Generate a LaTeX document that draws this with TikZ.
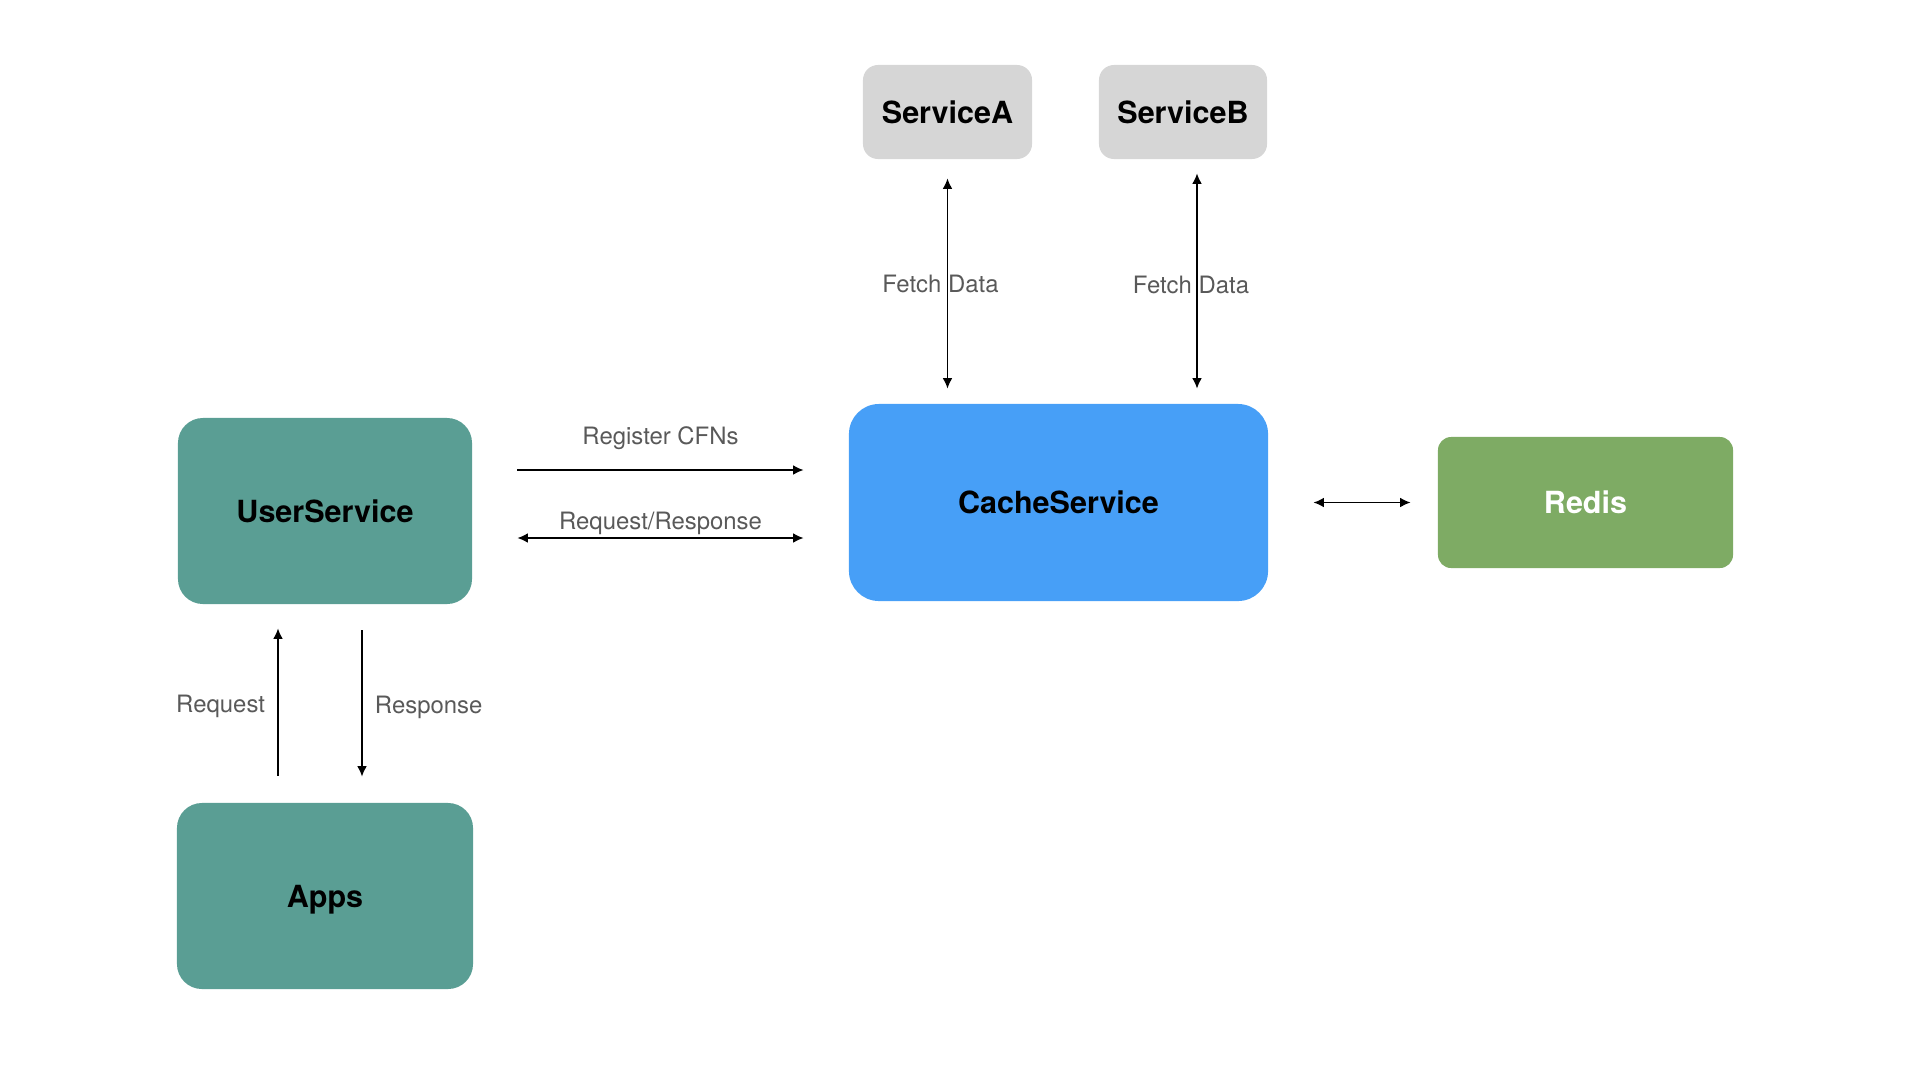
\documentclass[tikz,border=0pt]{standalone}
\usepackage{fontspec}
\setmainfont{TeX Gyre Heros}
\usetikzlibrary{arrows.meta,calc}
\definecolor{tealbox}{HTML}{5A9E94}
\definecolor{cacheblue}{HTML}{479FF7}
\definecolor{redisgreen}{HTML}{7EAB64}
\definecolor{svcgray}{HTML}{D6D6D6}
\definecolor{lblgray}{HTML}{595959}
\begin{document}
\begin{tikzpicture}[x=0.025cm,y=-0.025cm,
        box/.style={inner sep=0pt, text depth=0pt, font=\bfseries\fontsize{21.7}{26}\selectfont},
        lbl/.style={inner sep=0pt, text=lblgray, font=\fontsize{17}{20}\selectfont},
        one/.style={line width=1.4pt, -{Latex[length=7.5pt,width=7pt]}},
        both/.style={line width=1.4pt, {Latex[length=7.5pt,width=7pt]}-{Latex[length=7.5pt,width=7pt]}}]
    \useasboundingbox (0,0) rectangle (1920,1080);
    % boxes
    \node[box, fill=tealbox, rounded corners=0.625cm, minimum width=7.35cm, minimum height=4.65cm] (us) at (325,511) {UserService};
    \node[box, fill=tealbox, rounded corners=0.625cm, minimum width=7.4cm, minimum height=4.65cm] (apps) at (325,896) {Apps};
    \node[box, fill=cacheblue, rounded corners=0.75cm, minimum width=10.475cm, minimum height=4.925cm] (cs) at (1058.5,502.5) {CacheService};
    \node[box, fill=redisgreen, text=white, rounded corners=0.33cm, minimum width=7.375cm, minimum height=3.275cm] (redis) at (1585.5,502.5) {Redis};
    \node[box, fill=svcgray, rounded corners=0.375cm, minimum width=4.225cm, minimum height=2.35cm] (sa) at (947.5,112) {ServiceA};
    \node[box, fill=svcgray, rounded corners=0.375cm, minimum width=4.2cm, minimum height=2.35cm] (sb) at (1183,112) {ServiceB};
    % connectors
    \draw[both] ($(sa.south)+(0,19)$) -- ($(sa.south |- cs.north)+(0,-15)$)
        node[lbl, midway, xshift=-0.175cm] {Fetch Data};
    \draw[both] ($(sb.south)+(14,14)$) -- ($(sb.south |- cs.north)+(14,-15)$)
        node[lbl, midway, xshift=-0.15cm, yshift=-0.1cm] {Fetch Data};
    \draw[one] ($(us.east)+(45,-41)$) -- ($(cs.west |- us.east)+(-45,-41)$)
        node[lbl, midway, yshift=0.8cm] {Register CFNs};
    \draw[both] ($(us.east)+(45,27)$) -- ($(cs.west |- us.east)+(-45,27)$)
        node[lbl, midway, yshift=0.375cm] {Request/Response};
    \draw[both] ($(cs.east)+(45,0)$) -- ($(redis.west)+(-27,0)$);
    \draw[one] ($(apps.north)+(-47,-27)$) -- ($(us.south)+(-47,24)$)
        node[lbl, midway, left=0.3cm, yshift=-0.1cm] {Request};
    \draw[one] ($(us.south)+(37,26)$) -- ($(apps.north)+(37,-26)$)
        node[lbl, midway, right=0.3cm, yshift=-0.1cm] {Response};
\end{tikzpicture}
\end{document}
